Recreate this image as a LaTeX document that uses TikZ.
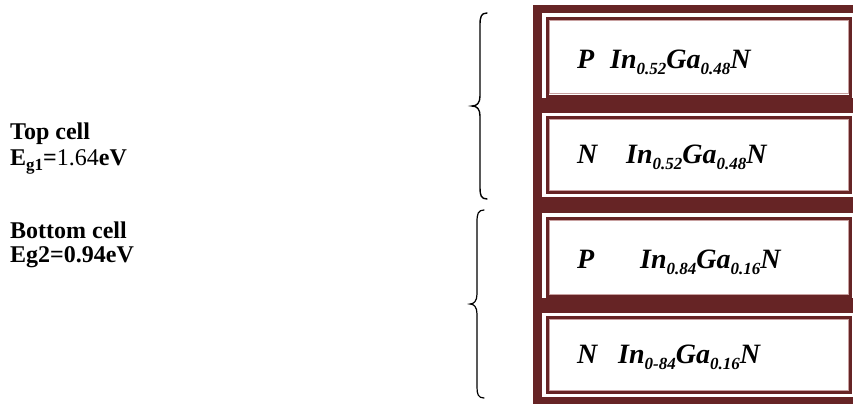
\documentclass[tikz,border=0pt]{standalone}
\usepackage{fontspec}
\setmainfont{Liberation Serif}
\definecolor{frame}{RGB}{102,36,37}
\definecolor{frameedge}{RGB}{200,160,160}
\newcommand{\lowsub}[1]{\raisebox{-0.22em}{\fontsize{17}{17}\selectfont #1}}
\newcommand{\layerfont}{\fontsize{28}{30}\selectfont\bfseries\itshape}
\newcommand{\labelfont}{\fontsize{24}{27}\selectfont\bfseries}
\tikzset{
  layerline/.style={draw=frame, line width=3pt},
  layeredge/.style={draw=frameedge, line width=0.8pt},
  brace/.style={draw=black, line width=1.4pt, line cap=round},
  celltext/.style={anchor=base west, inner sep=0pt, font=\layerfont},
  sidetext/.style={anchor=base west, inner sep=0pt, font=\labelfont},
}
\begin{document}
\begin{tikzpicture}[x=1pt, y=-1pt]
\useasboundingbox (0,0) rectangle (853,405);
\fill[white] (0,0) rectangle (853,405);

% outer frame of the stack
\fill[frame] (533,5) rectangle (880,404);

% the four layers: white field, dark border, pale inner rule
\fill[white] (542,13) rectangle (880,97.5);
\draw[layerline] (547.5,18.5) rectangle (850.5,96);
\draw[layeredge] (549.8,20.8) rectangle (848.2,93.8);

\fill[white] (542,113) rectangle (880,196.5);
\draw[layerline] (547.5,117) rectangle (850.5,192.5);
\draw[layeredge] (549.8,119.3) rectangle (848.2,190.2);

\fill[white] (542,213) rectangle (880,298);
\draw[layerline] (547.5,218.5) rectangle (850.5,296.5);
\draw[layeredge] (549.8,220.8) rectangle (848.2,294.2);

\fill[white] (542,313) rectangle (880,396.5);
\draw[layerline] (547.5,317) rectangle (850.5,392.5);
\draw[layeredge] (549.8,319.3) rectangle (848.2,390.2);

% layer labels
\node[celltext] (t1a) at (577,68) {P};
\node[celltext] (t1b) at (610,68) {In\lowsub{0.52}Ga\lowsub{0.48}N};
\node[celltext] (t2a) at (577,163) {N};
\node[celltext] (t2b) at (626,163) {In\lowsub{0.52}Ga\lowsub{0.48}N};
\node[celltext] (t3a) at (577,268) {P};
\node[celltext] (t3b) at (640,268) {In\lowsub{0.84}Ga\lowsub{0.16}N};
\node[celltext] (t4a) at (577,363) {N};
\node[celltext] (t4b) at (618,363) {In\lowsub{0-84}Ga\lowsub{0.16}N};

% braces grouping the sub-cells
\draw[brace] (487,13) .. controls (481,13) and (480,17) .. (480,25)
  -- (480,96) .. controls (480,103) and (477,106) .. (472,106)
  .. controls (477,106) and (480,109) .. (480,116)
  -- (480,188) .. controls (480,195) and (481,199) .. (487,199);
\draw[brace, line width=1.2pt] (484,210) .. controls (478,210) and (477,214) .. (477,222)
  -- (477,294) .. controls (477,301) and (474,304) .. (470,304)
  .. controls (474,304) and (477,307) .. (477,314)
  -- (477,387) .. controls (477,394) and (478,398) .. (484,398);

% cell descriptions
\node[sidetext] (top) at (10,139) {Top cell};
\node[sidetext] (eg1) at (10,165) {E\lowsub{\bfseries g1}=\mdseries 1.64\bfseries eV};
\node[sidetext] (bot) at (10,238) {Bottom cell};
\node[sidetext] (eg2) at (10,262) {Eg2=0.94eV};
\end{tikzpicture}
\end{document}
